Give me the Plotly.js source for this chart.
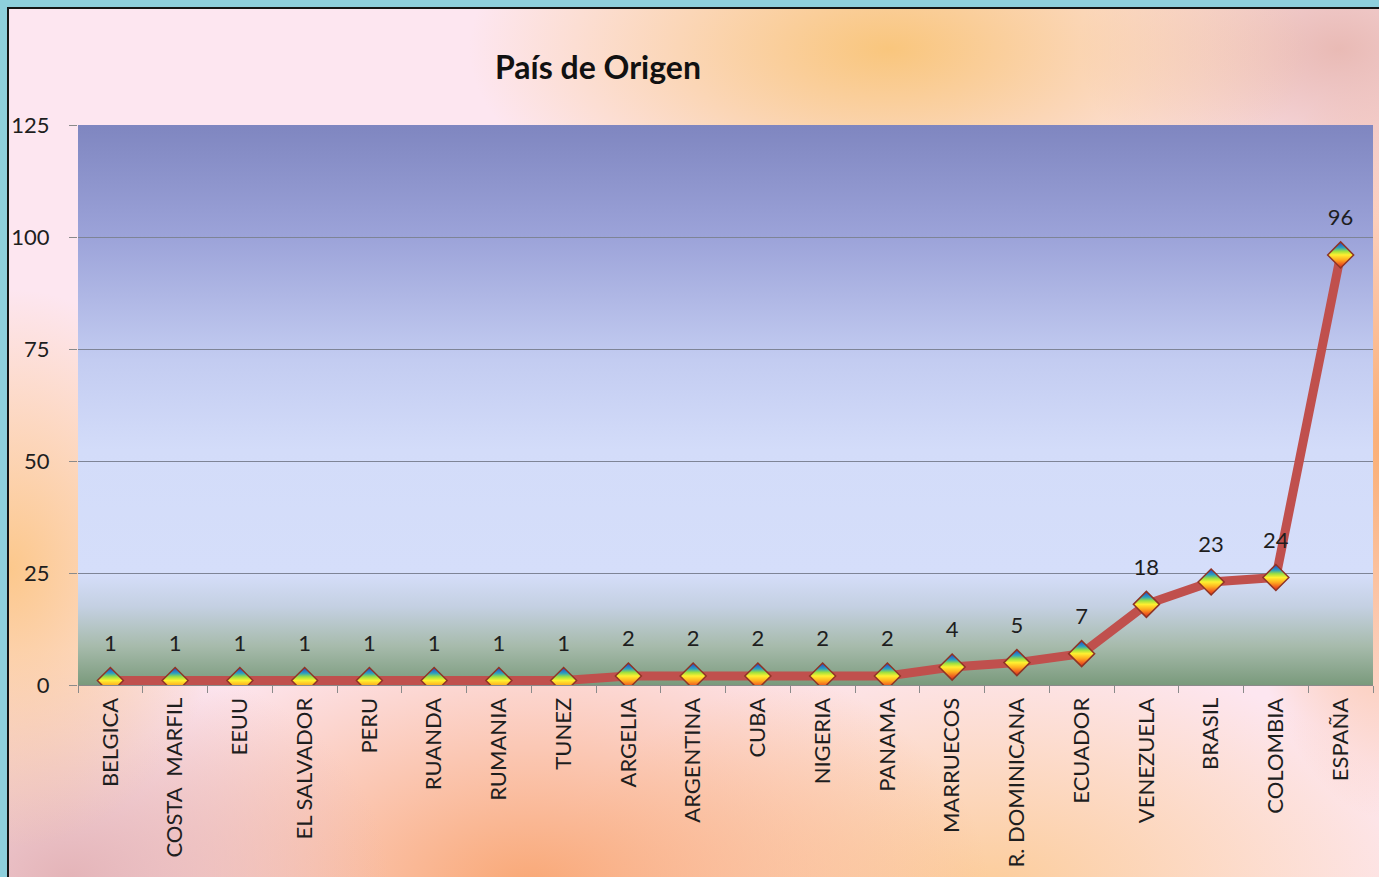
<!DOCTYPE html>
<html>
<head>
<meta charset="utf-8">
<script src="https://cdn.plot.ly/plotly-3.0.1.min.js"></script>
<style>
  html, body { margin: 0; padding: 0; width: 1379px; height: 877px; overflow: hidden; background: #8ecfdc; }
  #bg {
    position: absolute; left: 7px; top: 7px; width: 1372px; height: 870px;
    border-left: 2px solid #151515; border-top: 2px solid #151515; box-sizing: border-box;
    background:
      radial-gradient(ellipse 420px 200px at 880px 40px, rgba(249,198,125,1), rgba(249,198,125,0)),
      radial-gradient(ellipse 260px 170px at 1330px 40px, rgba(232,184,178,0.95), rgba(232,184,178,0)),
      radial-gradient(ellipse 160px 380px at 1379px 430px, rgba(250,172,112,1), rgba(250,172,112,0)),
      radial-gradient(ellipse 220px 280px at 0px 560px, rgba(252,200,140,1), rgba(252,200,140,0)),
      radial-gradient(ellipse 320px 230px at 60px 870px, rgba(228,180,184,1), rgba(228,180,184,0)),
      radial-gradient(ellipse 460px 270px at 520px 877px, rgba(249,168,118,1), rgba(249,168,118,0)),
      radial-gradient(ellipse 440px 240px at 980px 877px, rgba(252,205,155,1), rgba(252,205,155,0)),
      radial-gradient(ellipse 300px 200px at 1379px 877px, rgba(253,230,236,1), rgba(253,230,236,0)),
      #fde6f0;
  }
  #plotbg {
    position: absolute; left: 78px; top: 125px; width: 1295px; height: 560px;
    background: linear-gradient(to bottom,
      #7f86c0 0%, #9ca3d9 20%, #c3ccf1 42%, #d3dcf9 58%, #d5defa 80%,
      #c4d0e2 86%, #a7bbac 93%, #7a9a7c 100%);
  }
  #chart { position: absolute; left: 0; top: 0; width: 1379px; height: 877px; }
</style>
</head>
<body>
<div id="bg"></div>
<div id="plotbg"></div>
<div id="chart"></div>
<script>
const paises = ["BELGICA", "COSTA  MARFIL", "EEUU", "EL SALVADOR", "PERU", "RUANDA", "RUMANIA", "TUNEZ",
  "ARGELIA", "ARGENTINA", "CUBA", "NIGERIA", "PANAMA", "MARRUECOS", "R. DOMINICANA", "ECUADOR",
  "VENEZUELA", "BRASIL", "COLOMBIA", "ESPAÑA"];
const valores = [1, 1, 1, 1, 1, 1, 1, 1, 2, 2, 2, 2, 2, 4, 5, 7, 18, 23, 24, 96];
const tituloGrafico = "País de Origen";
const yTicks = [0, 25, 50, 75, 100, 125];

const FONT = "Lato, 'Open Sans', sans-serif";

const lineTrace = {
  x: paises, y: valores, type: "scatter", mode: "lines+markers",
  line: { color: "#c0504d", width: 9 },
  marker: {
    symbol: "diamond", size: 20, color: "#ffe000",
    gradient: { type: "vertical", color: "#e03020" },
    line: { color: "#8e3426", width: 1.5 }
  },
  hoverinfo: "x+y"
};
const labelTrace = {
  x: paises, y: valores, type: "scatter", mode: "markers+text",
  text: valores.map(String), textposition: "top center",
  textfont: { family: FONT, size: 22, color: "#1e1e1e" },
  marker: { size: 37, opacity: 0 },
  hoverinfo: "skip"
};

const layout = {
  width: 1379, height: 877,
  paper_bgcolor: "rgba(0,0,0,0)", plot_bgcolor: "rgba(0,0,0,0)",
  margin: { l: 78, r: 6, t: 125, b: 192 },
  showlegend: false,
  font: { family: FONT, color: "#1e1e1e" },
  title: {
    text: "<b>" + tituloGrafico + "</b>",
    font: { family: FONT, size: 32, color: "#111" },
    xref: "container", x: 598 / 1379, xanchor: "center",
    yref: "container", y: 1 - 68 / 877, yanchor: "middle"
  },
  xaxis: {
    type: "category", tickangle: -90, range: [-0.5, paises.length - 0.5], autorange: false,
    ticks: "outside", tickson: "boundaries", ticklen: 7, tickcolor: "#8a8a8a", tickwidth: 1,
    showline: true, linecolor: "#8a8a8a", linewidth: 1,
    showgrid: false,
    tickfont: { family: FONT, size: 22, color: "#1e1e1e" },
    ticklabelstandoff: 3
  },
  yaxis: {
    range: [0, 125], autorange: false, tickvals: yTicks, ticktext: yTicks.map(String),
    ticks: "outside", ticklen: 8, tickcolor: "#8a8a8a",
    showgrid: true, gridcolor: "#7e8496", gridwidth: 1,
    zeroline: false, showline: false,
    tickfont: { family: FONT, size: 22, color: "#1e1e1e" },
    ticklabelstandoff: 15
  }
};

Plotly.newPlot("chart", [lineTrace, labelTrace], layout, { displayModeBar: false, staticPlot: true }).then(function () {
  const stops = [
    [0, "#2a3cc8"], [0.22, "#2aa0c0"], [0.36, "#9ee040"], [0.5, "#fff030"],
    [0.68, "#ffb020"], [0.85, "#f06020"], [1, "#d02818"]
  ];
  document.querySelectorAll("#chart linearGradient").forEach(function (g) {
    while (g.firstChild) g.removeChild(g.firstChild);
    g.setAttribute("x1", "0"); g.setAttribute("y1", "0");
    g.setAttribute("x2", "0"); g.setAttribute("y2", "1");
    g.removeAttribute("gradientTransform");
    stops.forEach(function (s) {
      const st = document.createElementNS("http://www.w3.org/2000/svg", "stop");
      st.setAttribute("offset", s[0]);
      st.setAttribute("stop-color", s[1]);
      g.appendChild(st);
    });
  });
});
</script>
</body>
</html>
